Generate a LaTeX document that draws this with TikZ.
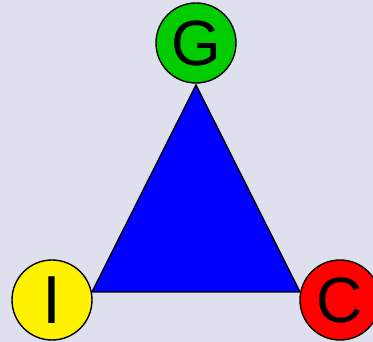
\documentclass[tikz,border=0pt]{standalone}
\usepackage{fontspec}
\setmainfont{Liberation Sans}
\definecolor{bgc}{RGB}{222,224,238}
\definecolor{gc}{RGB}{0,204,0}
\begin{document}
\begin{tikzpicture}[x=1pt,y=-1pt,
  vertex/.style={circle,draw=black,line width=1.4pt,minimum size=80pt,inner sep=0pt,font=\fontsize{64}{64}\selectfont},
  tri/.style={fill=blue,draw=black,line width=1.4pt,line join=miter}]
\useasboundingbox (0,0) rectangle (373,342);
\clip (0,0) rectangle (373,342);
\fill[bgc] (0,0) rectangle (373,342);
\coordinate (t) at (196,85);
\coordinate (l) at (92,292);
\coordinate (r) at (300,292);
\draw[tri] (t) -- (l) -- (r) -- cycle;
\node[vertex,fill=gc] (G) at (196,43) {G};
\node[vertex,fill=yellow] (I) at (52,300) {\fontsize{68}{68}\selectfont I};
\node[vertex,fill=red] (C) at (340,300) {C};
\end{tikzpicture}
\end{document}
